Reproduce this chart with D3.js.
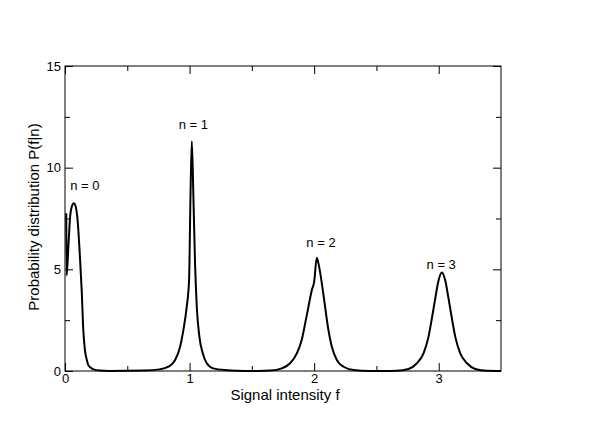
<!DOCTYPE html>
<html>
<head>
<meta charset="utf-8">
<script src="https://cdn.jsdelivr.net/npm/d3@7"></script>
<style>
  body { margin: 0; background: #fff; }
  text { font-family: "Liberation Sans", Arial, sans-serif; }
</style>
</head>
<body>
<div id="chart"></div>
<script>
// signal intensity f (x) and probability P(f|n) (y)
const signalF = [
  0.010, 0.013, 0.027, 0.040, 0.055, 0.072, 0.087, 0.099, 0.120, 0.134, 0.147, 0.160, 0.175, 0.187, 0.210, 0.230, 0.280, 0.350,
  0.640, 0.760, 0.830, 0.884, 0.924, 0.950, 0.977, 0.996, 1.007, 1.018, 1.031, 1.044, 1.058, 1.079, 1.106, 1.138, 1.190, 1.300, 1.450,
  1.550, 1.647, 1.740, 1.807, 1.861, 1.900, 1.928, 1.954, 1.981, 2.000, 2.021, 2.035, 2.062, 2.088, 2.115, 2.142, 2.182, 2.236, 2.316, 2.450,
  2.550, 2.664, 2.757, 2.825, 2.878, 2.918, 2.945, 2.972, 2.999, 3.025, 3.052, 3.079, 3.106, 3.133, 3.173, 3.227, 3.293, 3.387, 3.500
];
const probP = [
  7.76, 4.70, 6.10, 7.50, 8.10, 8.25, 8.05, 7.56, 5.60, 3.97, 2.00, 1.03, 0.55, 0.29, 0.15, 0.08, 0.02, 0.00,
  0.02, 0.08, 0.21, 0.54, 1.19, 2.00, 3.15, 4.46, 8.50, 11.30, 8.50, 5.28, 3.15, 1.68, 0.87, 0.38, 0.13, 0.04, 0.00,
  0.00, 0.02, 0.13, 0.38, 0.87, 1.52, 2.34, 3.15, 3.97, 4.38, 5.57, 5.28, 4.30, 3.15, 2.00, 1.19, 0.54, 0.21, 0.05, 0.00,
  0.00, 0.01, 0.10, 0.38, 0.87, 1.68, 2.58, 3.56, 4.46, 4.84, 4.46, 3.56, 2.58, 1.68, 0.87, 0.38, 0.10, 0.01, 0.00
];

const peakLabels = ["n = 0", "n = 1", "n = 2", "n = 3"];
const labelF = [0.16, 1.03, 2.055, 3.02];
const labelP = [8.9, 11.88, 6.1, 5.04];

const xMajorTicks = [0, 1, 2, 3];
const xMinorTicks = [0.5, 1.5, 2.5];
const yMajorTicks = [0, 5, 10, 15];
const yMinorTicks = [2.5, 7.5, 12.5];

const margin = { top: 66, right: 99, bottom: 53, left: 65 },
  width = 600 - margin.left - margin.right,
  height = 424 - margin.top - margin.bottom;

var svg = d3
  .select("#chart")
  .append("svg")
  .attr("width", 600)
  .attr("height", 424)
  .append("g")
  .attr("transform", "translate(" + margin.left + "," + margin.top + ")");

var x = d3.scaleLinear().domain([0, 3.5]).range([0, width]);
var y = d3.scaleLinear().domain([0, 15]).range([height, 0]);

// axes with inward ticks on all four sides
function styleAxis(g) {
  g.select(".domain").remove();
  g.selectAll("line").attr("stroke", "#000");
  g.selectAll("text").style("font-size", "13px").attr("fill", "#000");
}

svg.append("g")
  .attr("transform", "translate(0," + height + ")")
  .call(d3.axisBottom(x).tickValues(xMajorTicks).tickSize(-8).tickPadding(3).tickFormat(d3.format("d")))
  .call(styleAxis);
svg.append("g")
  .attr("transform", "translate(0," + height + ")")
  .call(d3.axisBottom(x).tickValues(xMinorTicks).tickSize(-5).tickFormat(""))
  .call(styleAxis);
svg.append("g")
  .call(d3.axisTop(x).tickValues(xMajorTicks).tickSize(-8).tickFormat(""))
  .call(styleAxis);
svg.append("g")
  .call(d3.axisTop(x).tickValues(xMinorTicks).tickSize(-5).tickFormat(""))
  .call(styleAxis);

svg.append("g")
  .call(d3.axisLeft(y).tickValues(yMajorTicks).tickSize(-8).tickPadding(4).tickFormat(d3.format("d")))
  .call(styleAxis);
svg.append("g")
  .call(d3.axisLeft(y).tickValues(yMinorTicks).tickSize(-5).tickFormat(""))
  .call(styleAxis);
svg.append("g")
  .attr("transform", "translate(" + width + ",0)")
  .call(d3.axisRight(y).tickValues(yMajorTicks).tickSize(-8).tickFormat(""))
  .call(styleAxis);
svg.append("g")
  .attr("transform", "translate(" + width + ",0)")
  .call(d3.axisRight(y).tickValues(yMinorTicks).tickSize(-5).tickFormat(""))
  .call(styleAxis);

// frame
svg.append("rect")
  .attr("x", 0)
  .attr("y", 0)
  .attr("width", width)
  .attr("height", height)
  .attr("fill", "none")
  .attr("stroke", "#000")
  .attr("stroke-width", 1);

// curve
var line = d3.line()
  .x(function (d, i) { return x(signalF[i]); })
  .y(function (d) { return y(d); })
  .curve(d3.curveMonotoneX);

svg.append("path")
  .datum(probP)
  .attr("d", line)
  .attr("fill", "none")
  .attr("stroke", "#000")
  .attr("stroke-width", 2)
  .attr("stroke-linejoin", "round");

// peak labels
svg.selectAll("peaklabel")
  .data(peakLabels)
  .enter()
  .append("text")
  .attr("x", function (d, i) { return x(labelF[i]); })
  .attr("y", function (d, i) { return y(labelP[i]); })
  .attr("text-anchor", "middle")
  .style("font-size", "13px")
  .text(function (d) { return d; });

// axis titles
svg.append("text")
  .attr("x", width / 2 + 2)
  .attr("y", height + 28.5)
  .attr("text-anchor", "middle")
  .style("font-size", "15px")
  .text("Signal intensity f");

svg.append("text")
  .attr("transform", "translate(" + (39 - margin.left) + "," + (217 - margin.top) + ")rotate(-90)")
  .attr("text-anchor", "middle")
  .style("font-size", "15px")
  .text("Probability distribution P(f|n)");
</script>
</body>
</html>
